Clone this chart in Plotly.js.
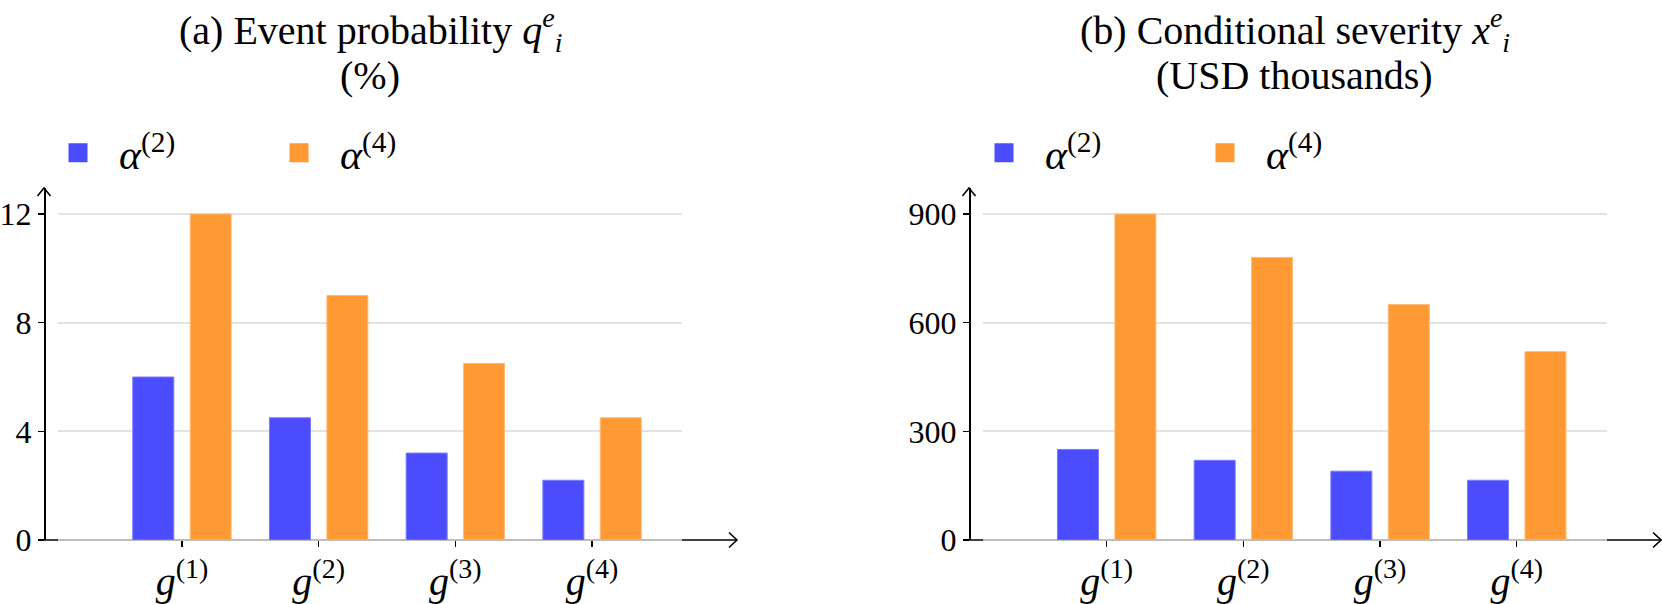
<!DOCTYPE html>
<html>
<head>
<meta charset="utf-8">
<script src="https://cdn.plot.ly/plotly-3.0.1.min.js"></script>
<style>html,body{margin:0;padding:0;background:#fff;}#chart{width:1662px;height:604px;}</style>
</head>
<body>
<div id="chart"></div>
<script>
// ---- data ----
const categories = ['g1', 'g2', 'g3', 'g4'];
const tickLabels = ['<i>g</i><sup>(1)</sup>', '<i>g</i><sup>(2)</sup>', '<i>g</i><sup>(3)</sup>', '<i>g</i><sup>(4)</sup>'];
const seriesNames = ['<i>α</i><sup>(2)</sup>', '<i>α</i><sup>(4)</sup>'];
const probAlpha2 = [6, 4.5, 3.2, 2.2];
const probAlpha4 = [12, 9, 6.5, 4.5];
const sevAlpha2 = [250, 220, 190, 165];
const sevAlpha4 = [900, 780, 650, 520];
const probTicks = [0, 4, 8, 12];
const sevTicks = [0, 300, 600, 900];
const titleA = ['(a) Event probability <i>q</i><sup><i>e</i></sup><sub><i>i</i></sub>', '(%)'];
const titleB = ['(b) Conditional severity <i>x</i><sup><i>e</i></sup><sub><i>i</i></sub>', '(USD thousands)'];

// ---- style ----
const W = 1662, H = 604;
const FONT = 'Liberation Serif, Times New Roman, serif';
const BLUE = '#4c4cff', ORANGE = '#ff9933';
const BLUE_EDGE = '#7a7aff', ORANGE_EDGE = '#ffbb77';
const px = v => v / W;
const py = v => 1 - v / H;

function barTrace(cats, vals, name, color, edge, xa, ya) {
  return {type: 'bar', x: cats, y: vals, name: name, showlegend: false,
    marker: {color: color, line: {color: edge, width: 1}},
    xaxis: xa, yaxis: ya, hoverinfo: 'x+y'};
}
function legendTrace(name, color, xa, ya, lg) {
  return {type: 'scatter', mode: 'markers', x: [null], y: [null], name: '\u00a0\u00a0' + name,
    marker: {symbol: 'square', size: 16, color: color, line: {color: color, width: 3}},
    xaxis: xa, yaxis: ya, legend: lg, showlegend: true};
}

const data = [
  barTrace(categories, probAlpha2, seriesNames[0], BLUE, BLUE_EDGE, 'x', 'y'),
  barTrace(categories, probAlpha4, seriesNames[1], ORANGE, ORANGE_EDGE, 'x', 'y'),
  barTrace(categories, sevAlpha2, seriesNames[0], BLUE, BLUE_EDGE, 'x2', 'y2'),
  barTrace(categories, sevAlpha4, seriesNames[1], ORANGE, ORANGE_EDGE, 'x2', 'y2'),
  legendTrace(seriesNames[0], BLUE, 'x', 'y', 'legend'),
  legendTrace(seriesNames[1], ORANGE, 'x', 'y', 'legend'),
  legendTrace(seriesNames[0], BLUE, 'x2', 'y2', 'legend2'),
  legendTrace(seriesNames[1], ORANGE, 'x2', 'y2', 'legend2')
];

function xAxis(d0, d1, anchor) {
  return {type: 'category', categoryarray: categories, domain: [px(d0), px(d1)], anchor: anchor,
    range: [-0.907, 3.658], tickvals: categories, ticktext: tickLabels,
    ticks: 'outside', ticklen: 6, tickwidth: 1.2, tickcolor: '#000',
    showline: false, showgrid: false, zeroline: false,
    tickfont: {family: FONT, size: 40, color: '#000'}, fixedrange: true};
}
function yAxis(pos, top, ticks) {
  return {domain: [py(540), py(188)], anchor: 'free', position: px(pos),
    range: [0, top], tickvals: ticks, ticktext: ticks.map(String),
    showgrid: true, gridcolor: '#e3e3e3', gridwidth: 2,
    zeroline: true, zerolinecolor: '#bdbdbd', zerolinewidth: 2,
    showline: true, linecolor: '#000', linewidth: 1.5,
    ticks: 'outside', ticklen: 6, tickwidth: 1.5, tickcolor: '#000',
    tickfont: {family: FONT, size: 32, color: '#000'}, fixedrange: true};
}

function arrowShapes(x0, xEnd) {
  return [
    {type: 'line', xref: 'paper', yref: 'paper', layer: 'below', x0: px(x0), x1: px(xEnd), y0: py(540), y1: py(540), line: {color: '#000', width: 1.6}},
    {type: 'path', xref: 'paper', yref: 'paper', layer: 'above',
      path: 'M' + px(xEnd - 8) + ',' + py(532.5) + ' L' + px(xEnd) + ',' + py(540) + ' L' + px(xEnd - 8) + ',' + py(547.5),
      line: {color: '#000', width: 1.6}},
    {type: 'path', xref: 'paper', yref: 'paper', layer: 'above',
      path: 'M' + px(x0 - 6.5) + ',' + py(196) + ' L' + px(x0) + ',' + py(188) + ' L' + px(x0 + 6.5) + ',' + py(196),
      line: {color: '#000', width: 1.6}}
  ];
}

const legendBase = {orientation: 'h', xanchor: 'left', yanchor: 'top',
  entrywidth: 176, entrywidthmode: 'pixels', font: {family: FONT, size: 42, color: '#000'},
  bgcolor: 'rgba(0,0,0,0)', itemclick: false, itemdoubleclick: false};

function titleLine(text, xc, yc) {
  return {xref: 'paper', yref: 'paper', x: px(xc), y: py(yc), xanchor: 'center', yanchor: 'middle',
    text: text, showarrow: false, align: 'center', font: {family: FONT, size: 40, color: '#000'}};
}

const layout = {
  width: W, height: H, margin: {l: 0, r: 0, t: 0, b: 0},
  paper_bgcolor: '#fff', plot_bgcolor: 'rgba(0,0,0,0)',
  font: {family: FONT, color: '#000'},
  barmode: 'group', bargap: 0.16, bargroupgap: 0.286,
  xaxis: xAxis(58, 682, 'y'),
  yaxis: yAxis(44, 12 * 352 / 326, probTicks),
  xaxis2: xAxis(982.7, 1606.7, 'y2'),
  yaxis2: yAxis(969, 900 * 352 / 326, sevTicks),
  legend: Object.assign({}, legendBase, {x: px(58), y: py(119)}),
  legend2: Object.assign({}, legendBase, {x: px(984), y: py(119)}),
  annotations: [
    titleLine(titleA[0], 370, 30), titleLine(titleA[1], 370, 75),
    titleLine(titleB[0], 1294.7, 30), titleLine(titleB[1], 1294.7, 75)
  ],
  shapes: arrowShapes(44, 737).concat(arrowShapes(969, 1661))
};

Plotly.newPlot('chart', data, layout, {displayModeBar: false, staticPlot: true});
</script>
</body>
</html>
